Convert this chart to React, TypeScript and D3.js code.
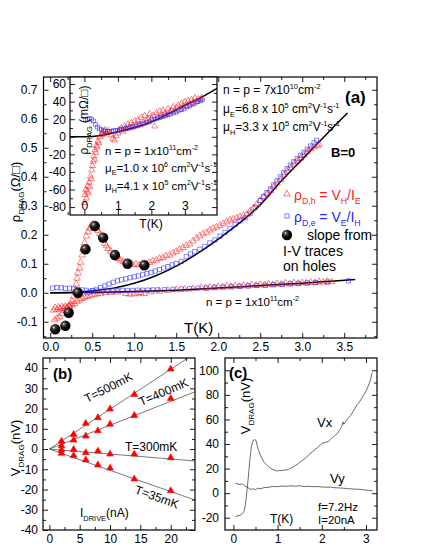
import React, { useEffect, useRef } from "react";
import * as d3 from "d3";

const FONT = "'Liberation Sans', Arial, Helvetica, sans-serif";
type Pt = [number, number];
type Part = [string, string];

// ---- panel (a), main: T (K) vs rho_drag (Ohm/sq) ----
// n = p = 7e10: red triangles (V_H/I_E)
const redA7: Pt[] = [
  [0.04, -0.06], [0.06, -0.052], [0.08, -0.058], [0.1, -0.05], [0.12, -0.055], [0.14, -0.048], [0.16, -0.053],
  [0.18, -0.047], [0.2, -0.051], [0.22, -0.045], [0.24, -0.04], [0.26, -0.03], [0.28, -0.012], [0.3, 0.01],
  [0.31, 0.03], [0.32, 0.05], [0.33, 0.068], [0.35, 0.085], [0.36, 0.105], [0.38, 0.13], [0.39, 0.15],
  [0.41, 0.172], [0.43, 0.195], [0.45, 0.21], [0.47, 0.222], [0.49, 0.232], [0.51, 0.236], [0.53, 0.232],
  [0.55, 0.224], [0.57, 0.214], [0.59, 0.203], [0.61, 0.192], [0.63, 0.182], [0.65, 0.17], [0.67, 0.162],
  [0.69, 0.152], [0.72, 0.143], [0.75, 0.134], [0.78, 0.126], [0.81, 0.118], [0.84, 0.112], [0.87, 0.108],
  [0.9, 0.104], [0.94, 0.1], [0.98, 0.097], [1.02, 0.098], [1.06, 0.096], [1.1, 0.101], [1.14, 0.099],
  [1.18, 0.104], [1.22, 0.11], [1.26, 0.112], [1.3, 0.118], [1.34, 0.121], [1.38, 0.127], [1.42, 0.13],
  [1.46, 0.137], [1.5, 0.142], [1.54, 0.15], [1.58, 0.155], [1.62, 0.163], [1.66, 0.168], [1.7, 0.178],
  [1.74, 0.188], [1.78, 0.196], [1.82, 0.203], [1.86, 0.208], [1.9, 0.216], [1.94, 0.222], [1.98, 0.226],
  [2.02, 0.232], [2.06, 0.238], [2.1, 0.244], [2.14, 0.25], [2.18, 0.254], [2.22, 0.258], [2.26, 0.262],
  [2.3, 0.266], [2.34, 0.27], [2.38, 0.282], [2.42, 0.292], [2.46, 0.305], [2.5, 0.318], [2.54, 0.33],
  [2.58, 0.34], [2.62, 0.352], [2.66, 0.365], [2.7, 0.378], [2.74, 0.39], [2.78, 0.406], [2.82, 0.42],
  [2.86, 0.432], [2.9, 0.444], [2.94, 0.455], [2.98, 0.464], [3.02, 0.475], [3.06, 0.486], [3.1, 0.496],
  [3.14, 0.503], [3.18, 0.508], [3.2, 0.512],
];
// n = p = 7e10: blue squares (V_E/I_H)
const blueA7: Pt[] = [
  [0.45, 0.0], [0.5, 0.006], [0.55, 0.012], [0.6, 0.018], [0.65, 0.024], [0.7, 0.03], [0.75, 0.036],
  [0.8, 0.041], [0.85, 0.045], [0.9, 0.048], [0.95, 0.052], [1.0, 0.055], [1.05, 0.058], [1.1, 0.062],
  [1.15, 0.066], [1.2, 0.07], [1.25, 0.075], [1.3, 0.08], [1.35, 0.085], [1.4, 0.09], [1.45, 0.096],
  [1.5, 0.101], [1.56, 0.108], [1.62, 0.125], [1.67, 0.134], [1.72, 0.142], [1.78, 0.15], [1.84, 0.16],
  [1.9, 0.172], [1.96, 0.182], [2.02, 0.195], [2.08, 0.208], [2.14, 0.222], [2.2, 0.236], [2.26, 0.248],
  [2.32, 0.258], [2.38, 0.274], [2.44, 0.295], [2.5, 0.318], [2.54, 0.332], [2.58, 0.345], [2.62, 0.358],
  [2.66, 0.372], [2.7, 0.386], [2.74, 0.4], [2.78, 0.414], [2.82, 0.428], [2.86, 0.44], [2.9, 0.452],
  [2.94, 0.463], [2.98, 0.474], [3.02, 0.484], [3.06, 0.495], [3.1, 0.506], [3.14, 0.517], [3.17, 0.526],
];
// n = p = 1e11: red triangles
const redA11: Pt[] = [
  [0.05, -0.094], [0.08, -0.088], [0.11, -0.083], [0.14, -0.072], [0.17, -0.062], [0.2, -0.055], [0.23, -0.048],
  [0.26, -0.042], [0.29, -0.037], [0.32, -0.03], [0.35, -0.025], [0.38, -0.02], [0.41, -0.016], [0.44, -0.013],
  [0.48, -0.01], [0.52, -0.007], [0.56, -0.004], [0.6, -0.002], [0.66, 0.0], [0.72, 0.001], [0.8, 0.002],
  [0.9, -0.003], [0.95, -0.005], [1.0, -0.004], [1.04, -0.002], [1.08, 0.0], [1.12, -0.003], [1.2, 0.003],
  [1.3, 0.005], [1.4, 0.008], [1.5, 0.01], [1.6, 0.012], [1.7, 0.014], [1.8, 0.018], [1.85, 0.015],
  [1.9, 0.02], [1.95, 0.017], [2.0, 0.021], [2.05, 0.019], [2.1, 0.023], [2.15, 0.02], [2.2, 0.024],
  [2.25, 0.022], [2.3, 0.026], [2.35, 0.023], [2.4, 0.027], [2.45, 0.025], [2.5, 0.028], [2.55, 0.026],
  [2.6, 0.03], [2.65, 0.027], [2.7, 0.031], [2.75, 0.029], [2.8, 0.033], [2.85, 0.03], [2.9, 0.034],
  [2.95, 0.032], [3.0, 0.035], [3.05, 0.033], [3.1, 0.036], [3.15, 0.035], [3.2, 0.038], [3.25, 0.036],
  [3.3, 0.039], [3.35, 0.038],
];
// n = p = 1e11: blue squares
const blueA11: Pt[] = [
  [0.03, 0.016], [0.08, 0.018], [0.13, 0.017], [0.18, 0.015], [0.23, 0.016], [0.28, 0.013], [0.33, 0.011],
  [0.38, 0.01], [0.43, 0.008], [0.5, 0.007], [0.56, 0.006], [0.62, 0.006], [0.68, 0.007], [0.74, 0.006],
  [0.8, 0.007], [0.86, 0.008], [0.92, 0.008], [0.98, 0.008], [1.04, 0.009], [1.1, 0.009], [1.16, 0.009],
  [1.22, 0.01], [1.28, 0.01], [1.36, 0.011], [1.46, 0.012], [1.56, 0.013], [1.66, 0.014], [1.76, 0.016],
  [1.86, 0.017], [1.96, 0.019], [2.06, 0.02], [2.16, 0.021], [2.26, 0.022], [2.36, 0.024], [2.46, 0.025],
  [2.56, 0.026], [2.66, 0.028], [2.76, 0.029], [2.86, 0.031], [2.96, 0.032], [3.06, 0.034], [3.16, 0.035],
  [3.3, 0.037], [3.55, 0.041],
];
// slope from I-V traces on holes
const ballsA: Pt[] = [
  [0.06, -0.126], [0.18, -0.114], [0.22, -0.069], [0.33, 0.0], [0.42, 0.15], [0.53, 0.23],
  [0.63, 0.19], [0.77, 0.13], [0.92, 0.1], [1.12, 0.095],
];
// fitted curves
const fitA7: Pt[] = [
  [0, 0], [0.25, 0.001], [0.5, 0.006], [0.75, 0.016], [1.0, 0.033], [1.25, 0.058], [1.5, 0.092], [1.75, 0.135],
  [2.0, 0.185], [2.25, 0.24], [2.5, 0.303], [2.75, 0.385], [3.0, 0.46], [3.15, 0.505], [3.35, 0.565], [3.54, 0.62],
];
const fitA11: Pt[] = [
  [0, 0], [0.5, 0.001], [1.0, 0.004], [1.5, 0.009], [2.0, 0.016], [2.5, 0.025], [3.0, 0.033], [3.3, 0.039], [3.63, 0.046],
];

// ---- inset: T (K) vs rho_drag (mOhm/sq), n = p = 1e11 ----
const redIn: Pt[] = [
  [0.0, -75], [0.02, -66], [0.04, -60], [0.06, -70], [0.08, -62], [0.1, -56], [0.12, -64], [0.14, -52],
  [0.16, -57], [0.18, -45], [0.2, -48], [0.22, -38], [0.24, -33], [0.26, -28], [0.28, -22], [0.3, -26],
  [0.32, -15], [0.34, -18], [0.36, -10], [0.38, -12], [0.4, -5], [0.43, -7], [0.46, 0], [0.5, 2], [0.54, 5],
  [0.58, 3], [0.62, 8], [0.66, 5], [0.72, 7], [0.8, 2], [0.85, -2], [0.9, -4], [0.95, 1], [1.0, 4],
  [1.05, 8], [1.1, 10], [1.15, 6], [1.2, 12], [1.25, 9], [1.3, 14], [1.35, 10], [1.4, 16], [1.45, 12],
  [1.5, 18], [1.55, 13], [1.6, 19], [1.65, 14], [1.7, 22], [1.75, 16], [1.8, 24], [1.85, 18], [1.9, 20],
  [1.95, 26], [2.0, 21], [2.05, 24], [2.1, 12], [2.15, 27], [2.2, 22], [2.25, 29], [2.3, 24], [2.35, 30],
  [2.4, 26], [2.45, 25], [2.5, 32], [2.55, 28], [2.6, 30], [2.65, 34], [2.7, 29], [2.75, 33], [2.8, 36],
  [2.85, 31], [2.9, 38], [2.95, 34], [3.0, 40], [3.05, 35], [3.1, 41], [3.15, 37], [3.2, 42], [3.25, 39],
  [3.3, 44], [3.35, 40], [3.4, 43], [3.45, 42], [3.5, 44],
];
const blueIn: Pt[] = [
  [0.03, 19], [0.09, 20], [0.15, 21], [0.21, 20], [0.27, 18], [0.33, 14], [0.39, 11], [0.45, 9], [0.51, 8],
  [0.57, 7], [0.63, 6], [0.69, 6], [0.75, 6], [0.81, 6], [0.87, 7], [0.93, 7], [0.99, 7], [1.05, 8],
  [1.11, 8], [1.17, 9], [1.23, 9], [1.3, 10], [1.38, 11], [1.46, 11], [1.54, 12], [1.62, 13], [1.7, 14],
  [1.78, 15], [1.86, 16], [1.94, 17], [2.02, 19], [2.1, 20], [2.18, 21], [2.26, 22], [2.34, 23], [2.42, 24],
  [2.5, 25], [2.58, 26], [2.66, 27], [2.74, 28], [2.82, 30], [2.9, 31], [2.98, 32], [3.06, 34], [3.14, 35],
  [3.22, 37], [3.3, 38], [3.38, 40], [3.46, 41], [3.52, 42],
];
const fitIn: Pt[] = [
  [-0.45, 0], [0, 0], [0.5, 1.5], [1, 5.7], [1.5, 10.5], [2, 17], [2.5, 26], [3, 36], [3.5, 45], [3.96, 55],
];

// ---- panel (b): I_drive (nA) vs V_drag (nV) ----
const driveI = [2, 4, 6, 8, 10, 14, 20];
const v500 = [3.9, 7.2, 12.7, 15.5, 19.8, 27.0, 39.5];
const v400 = [1.6, 4.4, 6.4, 9.0, 12.3, 16.6, 25.0];
const v300 = [-0.5, -0.2, -1.8, -1.0, -2.5, -2.5, -4.3];
const v35 = [-2.1, -3.3, -5.4, -7.9, -9.4, -14.8, -20.6];
const bLineI = [0, 24];
const bLineEnd = [47.3, 28.3, -5.9, -25.2]; // V at I = 24 nA for 500, 400, 300, 35 mK

// ---- panel (c): T (K) vs V_drag (nV), f = 7.2 Hz, I = 20 nA ----
const vxC: Pt[] = [
  [0.05, -19], [0.1, -18.5], [0.15, -18], [0.2, -17], [0.24, -15], [0.27, -10], [0.29, -4], [0.31, 3],
  [0.33, 10], [0.35, 18], [0.37, 26], [0.39, 33], [0.41, 38], [0.43, 41], [0.45, 43], [0.48, 43.5],
  [0.51, 43], [0.53, 40], [0.55, 37], [0.58, 34], [0.61, 31], [0.65, 28], [0.7, 25], [0.75, 23],
  [0.8, 21.5], [0.85, 20], [0.9, 19], [0.95, 18.5], [1.0, 18], [1.05, 18.6], [1.1, 18.2], [1.15, 19],
  [1.2, 18.8], [1.25, 19.5], [1.3, 20.5], [1.35, 21], [1.4, 22.5], [1.45, 23.5], [1.5, 25], [1.55, 26.5],
  [1.6, 27.5], [1.65, 29], [1.7, 31], [1.75, 32.5], [1.8, 34], [1.85, 35.5], [1.9, 37], [1.95, 38.5],
  [2.0, 40.5], [2.05, 41], [2.1, 41.5], [2.15, 42], [2.2, 44], [2.25, 45.5], [2.3, 47], [2.35, 48.5],
  [2.4, 51], [2.45, 54], [2.48, 58], [2.5, 56], [2.55, 59], [2.6, 61], [2.65, 63], [2.7, 66], [2.75, 69],
  [2.8, 72], [2.85, 74], [2.9, 77], [2.95, 80], [3.0, 83], [3.05, 87], [3.1, 92], [3.14, 98],
];
const vyC: Pt[] = [
  [0.05, 8], [0.1, 7.5], [0.15, 7], [0.2, 7.5], [0.25, 6], [0.3, 5], [0.35, 4], [0.4, 3], [0.45, 3.5],
  [0.5, 2.8], [0.55, 4], [0.6, 3.5], [0.7, 4.5], [0.8, 4.8], [0.9, 5.5], [1.0, 5.2], [1.1, 5.8], [1.2, 5.5],
  [1.3, 6], [1.4, 5.6], [1.5, 6], [1.6, 5.4], [1.7, 5.6], [1.8, 5.2], [1.9, 5.4], [2.0, 5], [2.1, 4.8],
  [2.2, 4.9], [2.3, 4.4], [2.4, 4.2], [2.5, 4], [2.6, 3.6], [2.7, 3.4], [2.8, 3.2], [2.9, 3], [3.0, 2.4],
  [3.1, 2.2], [3.15, 1.8],
];

// tick values
const aXTicks = [0, 0.5, 1, 1.5, 2, 2.5, 3, 3.5];
const aYTicks = [-0.1, 0, 0.1, 0.2, 0.3, 0.4, 0.5, 0.6, 0.7];
const inXTicks = [0, 1, 2, 3];
const inYTicks = [-80, -60, -40, -20, 0, 20, 40, 60];
const bXTicks = [0, 5, 10, 15, 20];
const bYTicks = [-40, -30, -20, -10, 0, 10, 20, 30, 40];
const cXTicks = [0, 1, 2, 3];
const cYTicks = [-20, 0, 20, 40, 60, 80, 100];

const RED = "#ff1a1a";
const BLUE = "#2626ff";

function rich(g: any, x: number, y: number, parts: Part[], size: number, opt: any = {}) {
  const t = g
    .append("text")
    .attr("transform", `translate(${x},${y}) rotate(${opt.rotate ?? 0})`)
    .attr("text-anchor", opt.anchor ?? "start")
    .style("font-family", FONT)
    .style("font-size", size + "px")
    .style("font-weight", opt.weight ?? "normal")
    .style("white-space", "pre")
    .attr("fill", opt.fill ?? "#000");
  let shift = 0;
  for (const [s, k] of parts) {
    const target = k === "sub" ? size * 0.3 : k === "sup" ? -size * 0.42 : 0;
    t.append("tspan")
      .attr("dy", target - shift)
      .style("font-size", (k ? size * 0.62 : size) + "px")
      .text(s);
    shift = target;
  }
  return t;
}

function frameAxes(g: any, x: any, y: any, o: any) {
  const [xl, xr] = x.range();
  const [yb, yt] = y.range();
  const tidy = (sel: any) => {
    sel.select(".domain").remove();
    sel.selectAll("line").attr("stroke", "#000").attr("stroke-width", 0.9);
    sel.selectAll("text").style("font-family", FONT).style("font-size", o.fs + "px").attr("fill", "#000");
  };
  const none = () => "";
  const add = (tr: string, axis: any) => tidy(g.append("g").attr("transform", tr).call(axis));

  const bottom = g
    .append("g")
    .attr("transform", `translate(0,${yb})`)
    .call(d3.axisBottom(x).tickValues(o.xMaj).tickSize(-o.maj).tickPadding(o.xPad).tickFormat(o.xFmt));
  tidy(bottom);
  if (o.xInside) bottom.selectAll("text").attr("y", -o.xPad).attr("dy", "0em");
  add(`translate(0,${yb})`, d3.axisBottom(x).tickValues(o.xMin).tickSize(-o.min).tickFormat(none));
  add(`translate(${xl},0)`, d3.axisLeft(y).tickValues(o.yMaj).tickSize(-o.maj).tickPadding(o.yPad).tickFormat(o.yFmt));
  add(`translate(${xl},0)`, d3.axisLeft(y).tickValues(o.yMin).tickSize(-o.min).tickFormat(none));
  add(`translate(0,${yt})`, d3.axisTop(x).tickValues(o.xMaj).tickSize(-o.maj).tickFormat(none));
  add(`translate(0,${yt})`, d3.axisTop(x).tickValues(o.xMin).tickSize(-o.min).tickFormat(none));
  add(`translate(${xr},0)`, d3.axisRight(y).tickValues(o.yMaj).tickSize(-o.maj).tickFormat(none));
  add(`translate(${xr},0)`, d3.axisRight(y).tickValues(o.yMin).tickSize(-o.min).tickFormat(none));

  g.append("rect")
    .attr("x", xl)
    .attr("y", yt)
    .attr("width", xr - xl)
    .attr("height", yb - yt)
    .attr("fill", "none")
    .attr("stroke", "#000")
    .attr("stroke-width", 1.2);
}

function clipFor(svg: any, id: string, x: any, y: any) {
  const [xl, xr] = x.range();
  const [yb, yt] = y.range();
  svg.select("defs").append("clipPath").attr("id", id)
    .append("rect").attr("x", xl).attr("y", yt).attr("width", xr - xl).attr("height", yb - yt);
  return `url(#${id})`;
}

function markers(g: any, data: Pt[], x: any, y: any, shape: any, size: number, color: string, filled = false) {
  const d = d3.symbol().type(shape).size(size)();
  g.append("g")
    .selectAll("path")
    .data(data)
    .join("path")
    .attr("d", d)
    .attr("transform", (p: Pt) => `translate(${x(p[0])},${y(p[1])})`)
    .attr("fill", filled ? color : "none")
    .attr("stroke", color)
    .attr("stroke-width", filled ? 0.6 : 0.55);
}

function drawA(svg: any) {
  const x = d3.scaleLinear().domain([-0.08, 3.89]).range([43.5, 377]);
  const y = d3.scaleLinear().domain([-0.156, 0.744]).range([338, 77]);
  const g = svg.append("g");
  const clip = clipFor(svg, "clipA", x, y);
  const line = d3.line<Pt>().x((d) => x(d[0])).y((d) => y(d[1])).curve(d3.curveMonotoneX);
  const data = g.append("g").attr("clip-path", clip);

  data.append("path").attr("d", line(fitA7)).attr("fill", "none").attr("stroke", "#000").attr("stroke-width", 1.5);
  data.append("path").attr("d", line(fitA11)).attr("fill", "none").attr("stroke", "#000").attr("stroke-width", 1.5);
  markers(data, redA11, x, y, d3.symbolTriangle, 19, RED);
  markers(data, redA7, x, y, d3.symbolTriangle, 19, RED);
  markers(data, blueA11, x, y, d3.symbolSquare, 18, BLUE);
  markers(data, blueA7, x, y, d3.symbolSquare, 18, BLUE);
  data.append("g")
    .selectAll("circle")
    .data(ballsA)
    .join("circle")
    .attr("cx", (d: Pt) => x(d[0]))
    .attr("cy", (d: Pt) => y(d[1]))
    .attr("r", 5.2)
    .attr("fill", "url(#ball)");

  frameAxes(g, x, y, {
    xMaj: aXTicks, xMin: d3.range(0.25, 3.9, 0.5), yMaj: aYTicks, yMin: d3.range(-0.15, 0.74, 0.1),
    xFmt: (d: number) => d.toFixed(1), yFmt: (d: number) => d.toFixed(1),
    maj: 5, min: 3, xPad: 4, yPad: 6, fs: 12,
  });

  // texts
  rich(g, 20, 192, [["ρ", ""], ["DRAG", "sub"], ["(Ω/□)", ""]], 13, { rotate: -90, anchor: "middle" });
  rich(g, 184, 333, [["T(K)", ""]], 15);
  rich(g, 223, 94, [["n = p = 7x10", ""], ["10", "sup"], ["cm", ""], ["-2", "sup"]], 12);
  rich(g, 223, 113, [["μ", ""], ["E", "sub"], ["=6.8 x 10", ""], ["5", "sup"], [" cm", ""], ["2", "sup"], ["V", ""], ["-1", "sup"], ["s", ""], ["-1", "sup"]], 12);
  rich(g, 223, 131, [["μ", ""], ["H", "sub"], ["=3.3 x 10", ""], ["5", "sup"], [" cm", ""], ["2", "sup"], ["V", ""], ["-1", "sup"], ["s", ""], ["-1", "sup"]], 12);
  rich(g, 345, 103, [["(a)", ""]], 17, { weight: "bold" });
  rich(g, 331, 157, [["B=0", ""]], 13, { weight: "bold" });
  rich(g, 206, 306, [["n = p = 1x10", ""], ["11", "sup"], ["cm", ""], ["-2", "sup"]], 11.5);

  // legend
  const lt = d3.symbol().type(d3.symbolTriangle).size(19)();
  const ls = d3.symbol().type(d3.symbolSquare).size(18)();
  g.append("path").attr("d", lt).attr("transform", "translate(287,194)").attr("fill", "none").attr("stroke", RED).attr("stroke-width", 0.6);
  g.append("path").attr("d", ls).attr("transform", "translate(287,216)").attr("fill", "none").attr("stroke", BLUE).attr("stroke-width", 0.6);
  g.append("circle").attr("cx", 287).attr("cy", 235).attr("r", 5.2).attr("fill", "url(#ball)");
  rich(g, 294, 200, [["ρ", ""], ["D,h", "sub"], [" = V", ""], ["H", "sub"], ["/I", ""], ["E", "sub"]], 14, { fill: RED });
  rich(g, 294, 222, [["ρ", ""], ["D,e", "sub"], [" = V", ""], ["E", "sub"], ["/I", ""], ["H", "sub"]], 14, { fill: BLUE });
  rich(g, 303, 240, [[" slope from", ""]], 14);
  rich(g, 283, 256, [["I-V traces", ""]], 14);
  rich(g, 283, 271, [["on holes", ""]], 14);
}

function drawInset(svg: any) {
  const x = d3.scaleLinear().domain([-0.43, 3.96]).range([70, 217]);
  const y = d3.scaleLinear().domain([-89, 68]).range([215, 77]);
  const g = svg.append("g");
  g.append("rect").attr("x", 70).attr("y", 77).attr("width", 147).attr("height", 138).attr("fill", "#fff");
  const clip = clipFor(svg, "clipIn", x, y);
  const line = d3.line<Pt>().x((d) => x(d[0])).y((d) => y(d[1])).curve(d3.curveMonotoneX);
  const data = g.append("g").attr("clip-path", clip);
  data.append("path").attr("d", line(fitIn)).attr("fill", "none").attr("stroke", "#000").attr("stroke-width", 1.4);
  markers(data, redIn, x, y, d3.symbolTriangle, 16, RED);
  markers(data, blueIn, x, y, d3.symbolSquare, 15, BLUE);

  frameAxes(g, x, y, {
    xMaj: inXTicks, xMin: [-0.5, 0.5, 1.5, 2.5, 3.5], yMaj: inYTicks, yMin: d3.range(-70, 68, 20),
    xFmt: (d: number) => String(d), yFmt: (d: number) => String(d),
    maj: 5, min: 3, xPad: 5, yPad: 4, fs: 12, xInside: true,
  });

  rich(g, 88, 120, [["ρ", ""], ["DRAG", "sub"], [" (mΩ/□)", ""]], 12, { rotate: -90, anchor: "middle" });
  rich(g, 151, 228, [["T(K)", ""]], 12, { anchor: "middle" });
  rich(g, 105, 155, [["n = p = 1x10", ""], ["11", "sup"], ["cm", ""], ["-2", "sup"]], 11.5);
  rich(g, 105, 172, [["μ", ""], ["E", "sub"], ["=1.0 x 10", ""], ["6", "sup"], [" cm", ""], ["2", "sup"], ["V", ""], ["-1", "sup"], ["s", ""], ["-1", "sup"]], 11.5);
  rich(g, 105, 190, [["μ", ""], ["H", "sub"], ["=4.1 x 10", ""], ["5", "sup"], [" cm", ""], ["2", "sup"], ["V", ""], ["-1", "sup"], ["s", ""], ["-1", "sup"]], 11.5);
}

function drawB(svg: any) {
  const x = d3.scaleLinear().domain([-1.05, 24]).range([43, 195]);
  const y = d3.scaleLinear().domain([-40, 45]).range([530, 358]);
  const g = svg.append("g");
  const clip = clipFor(svg, "clipB", x, y);
  const data = g.append("g").attr("clip-path", clip);
  bLineEnd.forEach((v) => {
    data.append("line")
      .attr("x1", x(bLineI[0])).attr("y1", y(0))
      .attr("x2", x(bLineI[1])).attr("y2", y(v))
      .attr("stroke", "#555").attr("stroke-width", 0.8);
  });
  [v500, v400, v300, v35].forEach((vs) => {
    markers(data, driveI.map((i, k) => [i, vs[k]] as Pt), x, y, d3.symbolTriangle, 20, "#ff0000", true);
  });

  frameAxes(g, x, y, {
    xMaj: bXTicks, xMin: [2.5, 7.5, 12.5, 17.5, 22.5], yMaj: bYTicks, yMin: d3.range(-35, 44, 10),
    xFmt: (d: number) => String(d), yFmt: (d: number) => String(d),
    maj: 5, min: 3, xPad: 4, yPad: 5, fs: 12,
  });

  rich(g, 53, 379, [["(b)", ""]], 15, { weight: "bold" });
  rich(g, 20, 448, [["V", ""], ["DRAG", "sub"], ["(nV)", ""]], 13, { rotate: -90, anchor: "middle" });
  rich(g, 80, 517, [["I", ""], ["DRIVE", "sub"], ["(nA)", ""]], 12);
  rich(g, 87, 403, [["T=500mK", ""]], 12, { rotate: -27 });
  rich(g, 141, 406, [["T=400mK", ""]], 12, { rotate: -23 });
  rich(g, 125, 451, [["T=300mK", ""]], 12);
  rich(g, 134, 493, [["T=35mK", ""]], 12, { rotate: 20 });
}

function drawC(svg: any) {
  const x = d3.scaleLinear().domain([-0.19, 3.25]).range([225, 377]);
  const y = d3.scaleLinear().domain([-30, 110]).range([530, 358]);
  const g = svg.append("g");
  const clip = clipFor(svg, "clipC", x, y);
  const data = g.append("g").attr("clip-path", clip);
  const line = d3.line<Pt>().x((d) => x(d[0])).y((d) => y(d[1]));
  data.append("path").attr("d", line(vxC)).attr("fill", "none").attr("stroke", "#444").attr("stroke-width", 0.8);
  data.append("path").attr("d", line(vyC)).attr("fill", "none").attr("stroke", "#444").attr("stroke-width", 0.8);

  frameAxes(g, x, y, {
    xMaj: cXTicks, xMin: [0.5, 1.5, 2.5], yMaj: cYTicks, yMin: d3.range(-10, 105, 20),
    xFmt: (d: number) => String(d), yFmt: (d: number) => String(d),
    maj: 5, min: 3, xPad: 4, yPad: 6, fs: 12,
  });

  rich(g, 229, 378, [["(c)", ""]], 15, { weight: "bold" });
  rich(g, 250, 406, [["V", ""], ["DRAG", "sub"], ["(nV)", ""]], 13, { rotate: -90, anchor: "middle" });
  rich(g, 317, 427, [["Vx", ""]], 13);
  rich(g, 330, 483, [["Vy", ""]], 13);
  rich(g, 270, 523, [["T(K)", ""]], 12);
  rich(g, 318, 511, [["f=7.2Hz", ""]], 11.5);
  rich(g, 318, 524, [["I=20nA", ""]], 11.5);
}

export default function App() {
  const ref = useRef<SVGSVGElement>(null);

  useEffect(() => {
    const svg = d3.select(ref.current);
    svg.selectAll("*").remove();
    const defs = svg.append("defs");
    const grad = defs.append("radialGradient").attr("id", "ball").attr("cx", "35%").attr("cy", "32%").attr("r", "70%");
    grad.append("stop").attr("offset", "0%").attr("stop-color", "#f4f4f4");
    grad.append("stop").attr("offset", "18%").attr("stop-color", "#555");
    grad.append("stop").attr("offset", "55%").attr("stop-color", "#0a0a0a");
    grad.append("stop").attr("offset", "100%").attr("stop-color", "#000");
    drawA(svg);
    drawInset(svg);
    drawB(svg);
    drawC(svg);
  }, []);

  return (
    <svg
      ref={ref}
      width={425}
      height={550}
      style={{ position: "absolute", left: 0, top: 0, background: "#fff" }}
    />
  );
}
